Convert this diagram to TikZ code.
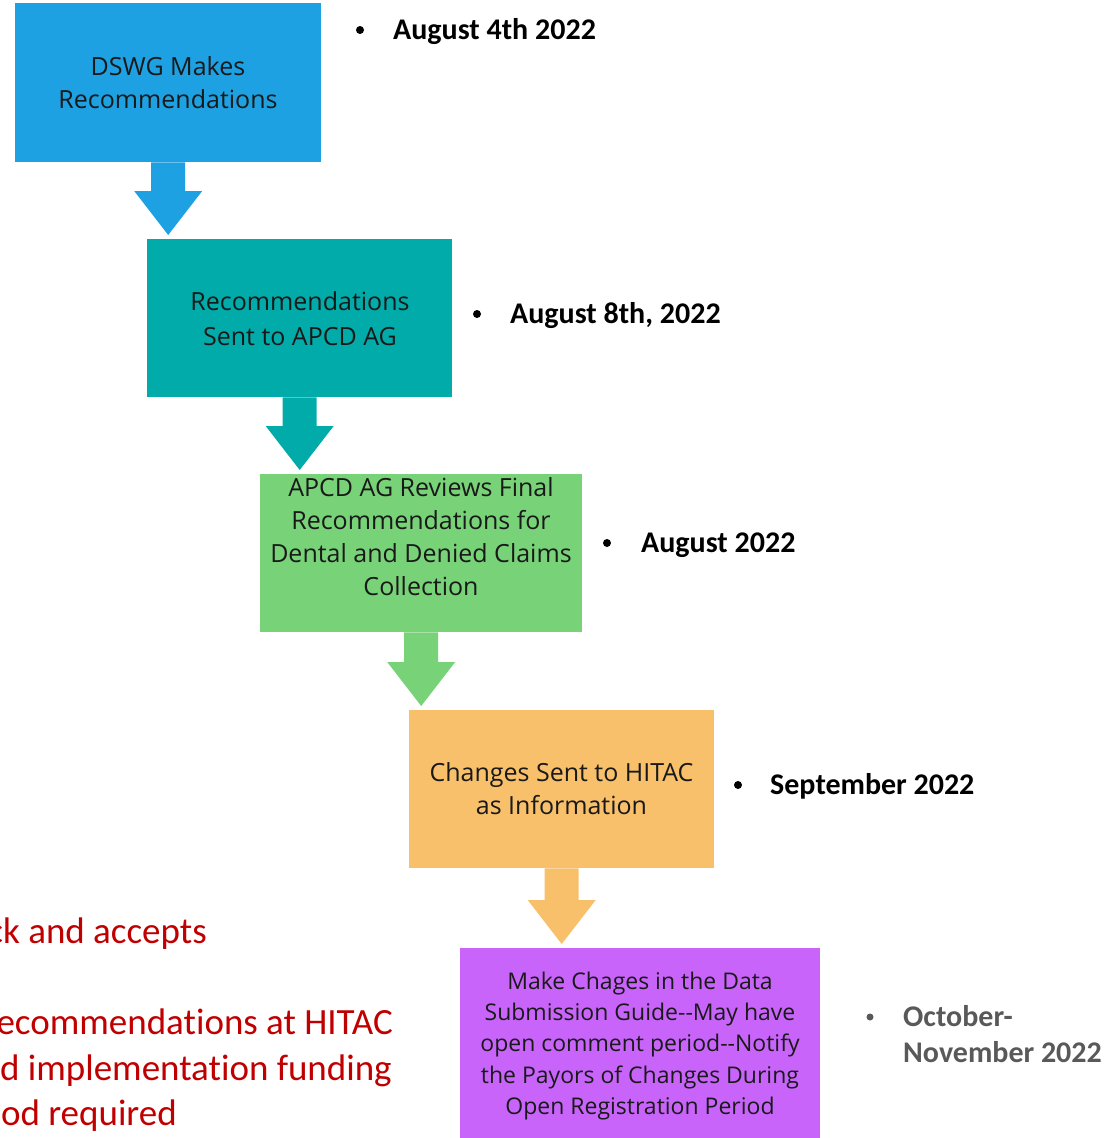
\documentclass[tikz,border=0pt]{standalone}
\usepackage{fontspec}
\setmainfont[Ligatures=NoCommon]{Open Sans}
\newfontfamily\calfont[Ligatures=NoCommon]{Carlito}
\usetikzlibrary{calc}
\definecolor{cblue}{RGB}{29,161,226}
\definecolor{cteal}{RGB}{0,171,169}
\definecolor{cgreen}{RGB}{120,210,120}
\definecolor{corange}{RGB}{248,192,106}
\definecolor{cpurple}{RGB}{200,100,250}
\definecolor{cred}{RGB}{192,0,0}
\definecolor{cgrey}{RGB}{89,89,89}
\definecolor{boxink}{RGB}{25,25,25}
\newcommand\blockarrow[3]{%
  \fill[#3] let \p1=(#1.south), \p2=(#2.north) in
    (\x1-17pt,\y1) -- (\x1-17pt,\y2+48pt) -- (\x1-34pt,\y2+48pt) --
    (\x1,\y2+4pt) -- (\x1+34pt,\y2+48pt) -- (\x1+17pt,\y2+48pt) --
    (\x1+17pt,\y1) -- cycle;}
\tikzset{
  flowbox/.style={rectangle, draw=none, inner sep=0pt, anchor=north west},
  boxlabel/.style={align=center, text=boxink, inner sep=0pt,
    font=\fontsize{25}{33}\selectfont},
  bulletdot/.style={circle, fill=black, inner sep=0pt, minimum size=8pt},
  datetext/.style={anchor=base west, inner sep=0pt,
    font=\calfont\bfseries\fontsize{30}{36}\selectfont},
  redtext/.style={anchor=base east, inner sep=0pt, text=cred,
    font=\calfont\fontsize{37}{45}\selectfont}
}
\begin{document}
\begin{tikzpicture}[x=1pt, y=-1pt]
\useasboundingbox (0,0) rectangle (1114,1138);
\clip (0,0) rectangle (1114,1138);
% boxes
\node[flowbox, fill=cblue, minimum width=306pt, minimum height=159pt] (b1) at (15,3) {};
\node[flowbox, fill=cteal, minimum width=305pt, minimum height=158pt] (b2) at (147,239) {};
\node[flowbox, fill=cgreen, minimum width=322pt, minimum height=158pt] (b3) at (260,474) {};
\node[flowbox, fill=corange, minimum width=305pt, minimum height=158pt] (b4) at (409,710) {};
\node[flowbox, fill=cpurple, minimum width=360pt, minimum height=200pt] (b5) at (460,948) {};
% box texts
\node[boxlabel] (t1) at (168,82.5) {DSWG Makes\\Recommendations};
\node[boxlabel, font=\fontsize{25}{35}\selectfont] (t2) at (300,319) {Recommendations\\Sent to APCD AG};
\node[boxlabel] (t3) at (421,536.5) {APCD AG Reviews Final\\Recommendations for\\Dental and Denied Claims\\Collection};
\node[boxlabel] (t4) at (561.5,788.5) {Changes Sent to HITAC\\as Information};
\node[boxlabel, font=\fontsize{23}{31.3}\selectfont] (t5) at (640,1046) {Make Chages in the Data\\Submission Guide-{}-May have\\open comment period-{}-Notify\\the Payors of Changes During\\Open Registration Period};
% arrows
\blockarrow{b1}{b2}{cblue}
\blockarrow{b2}{b3}{cteal}
\blockarrow{b3}{b4}{cgreen}
\blockarrow{b4}{b5}{corange}
% dates
\node[bulletdot] (d1) at (360,30) {};
\node[datetext] (l1) at (393,39) {August 4th 2022};
\node[bulletdot] (d2) at (477,314) {};
\node[datetext] (l2) at (510,323) {August 8th, 2022};
\node[bulletdot] (d3) at (607,543) {};
\node[datetext] (l3) at (641,552) {August 2022};
\node[bulletdot] (d4) at (738,785) {};
\node[datetext] (l4) at (770,794) {September 2022};
\node[bulletdot, fill=cgrey, minimum size=7pt] (d5) at (870,1017) {};
\node[datetext, text=cgrey] (l5a) at (903,1026) {October-};
\node[datetext, text=cgrey] (l5b) at (903,1062) {November 2022};
% red side text (cut off at the left edge, as in the reference)
\node[redtext] (r1) at (207,943) {ck and accepts};
\node[redtext] (r2) at (393,1034) {ecommendations at HITAC};
\node[redtext] (r3) at (392,1080) {d implementation funding};
\node[redtext] (r4) at (177,1125) {od required};
\end{tikzpicture}
\end{document}
